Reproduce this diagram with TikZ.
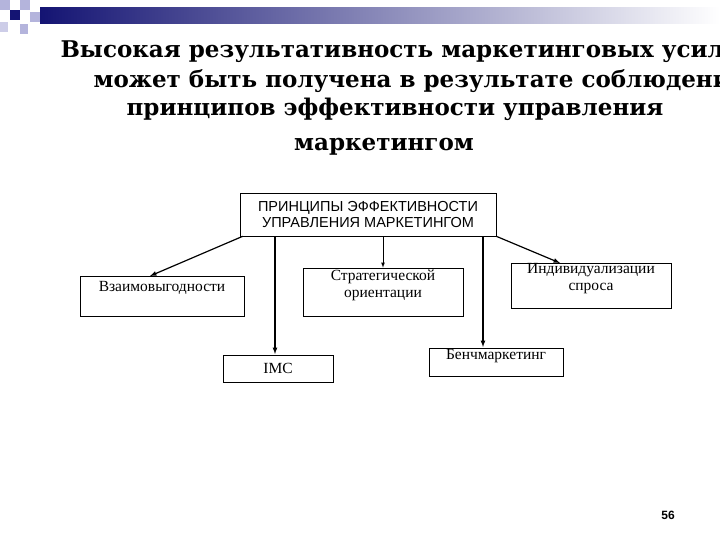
\documentclass[tikz,border=0pt]{standalone}
\usepackage{fontspec}
\setmainfont{Liberation Serif}
\newfontfamily\titlefont{DejaVu Serif}
\newfontfamily\arialf{Liberation Sans}
\definecolor{navy}{RGB}{20,20,115}
\definecolor{lav}{RGB}{180,180,220}
\definecolor{lav2}{RGB}{205,205,232}
\begin{document}
\begin{tikzpicture}[x=1pt,y=-1pt,
  bx/.style={draw,line width=0.6pt,inner sep=0pt,font=\fontsize{15.5}{17}\selectfont,align=center},
  ar/.style={-latex,line width=1.2pt},
  ttl/.style={font=\titlefont\bfseries\fontsize{23}{26}\selectfont,anchor=base}]
\useasboundingbox (0,0) rectangle (720,540);
\fill[white] (0,0) rectangle (720,540);
% header bar
\shade[left color=navy,right color=white] (40,8) rectangle (720,24);
\fill[navy] (10,10) rectangle (20,20);
\fill[lav] (0,0) rectangle (10,10);
\fill[lav] (20,0) rectangle (30,10);
\fill[lav] (30,12) rectangle (40,22);
\fill[lav2] (0,22) rectangle (8,32);
\fill[lav] (20,24) rectangle (28,34);
% title
\begin{scope}
\clip (0,0) rectangle (720,540);
\node[ttl,anchor=base west] (t1) at (57,58) {Высокая результативность маркетинговых усилий};
\node[ttl,anchor=base west] (t2) at (90,88) {может быть получена в результате соблюдения};
\node[ttl] (t3) at (395,116) {принципов эффективности управления};
\node[ttl] (t4) at (384,151) {маркетингом};
\end{scope}
% boxes
\node[bx,font=\arialf\fontsize{14.5}{16}\selectfont,minimum width=256pt,minimum height=43pt] (top) at (368,214.5) {ПРИНЦИПЫ ЭФФЕКТИВНОСТИ\\УПРАВЛЕНИЯ МАРКЕТИНГОМ};
\node[bx,minimum width=164pt,minimum height=40pt] (vz) at (162,296) {Взаимовыгодности\\[2pt]};
\node[bx,minimum width=160pt,minimum height=48pt] (st) at (383,292) {Стратегической\\ориентации\\[0pt]};
\node[bx,minimum width=160pt,minimum height=45pt] (ind) at (591,285.5) {Индивидуализации\\спроса\\[0pt]};
\node[bx,minimum width=110pt,minimum height=27pt] (imc) at (278,368.5) {IMC};
\node[bx,minimum width=134pt,minimum height=28pt] (ben) at (496,362) {Бенчмаркетинг\\[-2pt]};
% arrows
\draw[ar] ([xshift=3pt]top.south west) -- (150,276);
\draw[ar] (top.south -| 275,0) -- (275,354);
\draw[ar,line width=0.8pt] (top.south -| st.north) -- (st.north);
\draw[ar] (top.south -| 483,0) -- (483,347);
\draw[ar] (top.south east) -- (560,263);
\node[font=\arialf\bfseries\fontsize{12}{14}\selectfont] (pg) at (668,515) {56};
\end{tikzpicture}
\end{document}
